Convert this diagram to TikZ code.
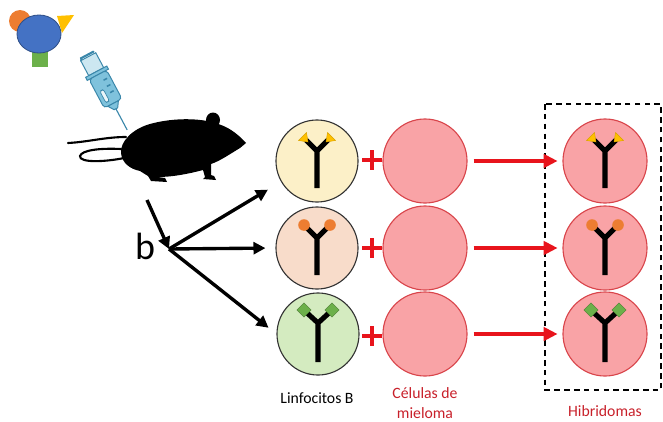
\documentclass[tikz,border=0pt]{standalone}
\usepackage{fontspec}
\setmainfont{Carlito}
\usetikzlibrary{arrows.meta}

\definecolor{lymphyellow}{HTML}{FCF0C8}
\definecolor{lymphorange}{HTML}{F8DCCA}
\definecolor{lymphgreen}{HTML}{D4EBC0}
\definecolor{myelomafill}{HTML}{F9A3A6}
\definecolor{myelomaedge}{HTML}{D9454B}
\definecolor{fusionred}{HTML}{E8141C}
\definecolor{textred}{HTML}{C8202A}
\definecolor{tipyellow}{HTML}{FFC000}
\definecolor{tiporange}{HTML}{ED7D31}
\definecolor{tipgreen}{HTML}{6CB04A}
\definecolor{antigenblue}{HTML}{4472C4}
\definecolor{syringeblue}{HTML}{7FC2DC}
\definecolor{syringeedge}{HTML}{3A87AA}

\begin{document}
\begin{tikzpicture}[
        x=0.025cm, y=-0.025cm,
        bcell/.style={circle, draw=black!80, line width=0.8pt, minimum size=2.05cm, inner sep=0pt},
        myeloma/.style={circle, draw=myelomaedge, fill=myelomafill, line width=0.8pt, minimum size=2.1cm, inner sep=0pt},
        black_arrow/.style={line width=2.4pt, -{Triangle[length=8.5pt,width=8.5pt]}},
        fusion_arrow/.style={draw=fusionred, line width=2.6pt, -{Triangle[length=10pt,width=9.5pt]}, shorten <=0.15cm, shorten >=0.12cm},
        plus_sign/.style={draw=fusionred, line width=3.4pt},
        ab_line/.style={line width=3.6pt},
        cell_text/.style={font=\fontsize{11.2}{14}\selectfont, align=center},
        mouse_tail/.style={line width=1.5pt, line cap=round},
        syringe_body/.style={fill=syringeblue, draw=syringeedge, line width=0.7pt},
        dashed_box/.style={dashed, line width=0.9pt, dash pattern=on 4pt off 3pt},
        % antibody Y with three kinds of binding tips
        ab_yellow/.pic={
            \draw[ab_line] (-11,-21) -- (0,-10) -- (11,-21) (0,-10) -- (0,27);
            \filldraw[fill=tipyellow, draw=tipyellow!85!black, line width=0.3pt] (-9,-19) -- (-18.5,-20.5) -- (-10.5,-28.5) -- cycle;
            \filldraw[fill=tipyellow, draw=tipyellow!85!black, line width=0.3pt] (9,-19) -- (18.5,-20.5) -- (10.5,-28.5) -- cycle;
        },
        ab_orange/.pic={
            \draw[ab_line] (-11,-21) -- (0,-10) -- (11,-21) (0,-10) -- (0,27);
            \fill[tiporange] (-13,-23) circle (5.8) (13,-23) circle (5.8);
        },
        ab_green/.pic={
            \draw[ab_line] (-12,-22) -- (0,-11) -- (12,-22) (0,-11) -- (0,28);
            \begin{scope}[shift={(-14,-24)}, rotate=45]
                \filldraw[fill=tipgreen, draw=tipgreen!70!black, line width=0.3pt] (-5,-5) rectangle (5,5);
            \end{scope}
            \begin{scope}[shift={(14,-24)}, rotate=45]
                \filldraw[fill=tipgreen, draw=tipgreen!70!black, line width=0.3pt] (-5,-5) rectangle (5,5);
            \end{scope}
        }
    ]
        \useasboundingbox (0,0) rectangle (663,421);

        % Antigen
        \fill[tiporange] (20,21) circle (11);
        \fill[tipyellow] (57,16) -- (74,15) -- (62,33) -- cycle;
        \fill[tipgreen] (32,50) rectangle (48,67);
        \filldraw[fill=antigenblue, draw=antigenblue!70!black, line width=0.6pt] (39,34) ellipse [x radius=22, y radius=19];

        % Syringe
        \begin{scope}[shift={(107,92)}, rotate=-62]
            \draw[draw=syringeedge, line width=1.5pt, line cap=round] (-42,-7) -- (-42,7) -- (-39,8);
            \filldraw[syringe_body, fill=syringeblue!40] (-40,-8.5) rectangle (-23,8.5);
            \filldraw[syringe_body] (-23,-12) rectangle (-19.5,12);
            \filldraw[syringe_body, rounded corners=2.5pt] (-19.5,-10) rectangle (13,10);
            \filldraw[fill=white!85!syringeblue, draw=syringeedge, line width=0.5pt, rounded corners=1.5pt] (-4,2) rectangle (9,6);
            \draw[syringeedge, line width=1.1pt] (-12,-6.5) -- (-12,-2.5) (-5,-6.5) -- (-5,-2.5) (2,-6.5) -- (2,-2.5);
            \filldraw[syringe_body] (13,-6) -- (19,-2) -- (19,2) -- (13,6) -- cycle;
            \draw[syringeedge, line width=0.8pt] (19,0) -- (43,0);
        \end{scope}

        % Mouse
        \draw[mouse_tail] (126,137) .. controls (105,137) and (88,142) .. (68,143);
        \draw[mouse_tail] (121,149) .. controls (100,148) and (82,150) .. (80,156) .. controls (79,163) and (105,162) .. (124,158);
        \fill (246,143) .. controls (240,136) and (230,128) .. (221,125)
            .. controls (205,118) and (175,117) .. (150,124)
            .. controls (132,129) and (120,142) .. (121,153)
            .. controls (122,163) and (130,169) .. (140,171)
            -- (148,176) -- (151,181) -- (167,182) -- (165,178) -- (158,177)
            .. controls (172,177) and (188,174) .. (203,170)
            -- (205,177) -- (203,179) -- (216,180) -- (214,176) -- (211,175) -- (211,164)
            .. controls (220,161) and (230,154) .. (240,148) -- cycle;
        \fill (213,120) ellipse [x radius=7, y radius=7.5];

        % B lymphocytes
        \node[bcell, fill=lymphyellow] (cell_b1) at (317,161) {};
        \node[bcell, fill=lymphorange] (cell_b2) at (317,248) {};
        \node[bcell, fill=lymphgreen] (cell_b3) at (318,334) {};
        \pic at (cell_b1) {ab_yellow};
        \pic at (cell_b2) {ab_orange};
        \pic at (cell_b3) {ab_green};

        % Myeloma cells
        \node[myeloma] (myeloma1) at (425,161) {};
        \node[myeloma] (myeloma2) at (425,248) {};
        \node[myeloma] (myeloma3) at (425,334) {};

        \draw[plus_sign] (372,150) -- (372,170) (362,160) -- (382,160);
        \draw[plus_sign] (372,238) -- (372,258) (362,248) -- (382,248);
        \draw[plus_sign] (372,326) -- (372,346) (362,336) -- (382,336);

        % Hybridomas
        \node[myeloma] (hybrid1) at (605,161) {};
        \node[myeloma] (hybrid2) at (605,248) {};
        \node[myeloma] (hybrid3) at (605,334) {};
        \pic at (hybrid1) {ab_yellow};
        \pic at (hybrid2) {ab_orange};
        \pic at (hybrid3) {ab_green};
        \draw[dashed_box] (545,104) rectangle (661,390);

        \draw[fusion_arrow] (myeloma1) -- (hybrid1);
        \draw[fusion_arrow] (myeloma2) -- (hybrid2);
        \draw[fusion_arrow] (myeloma3) -- (hybrid3);

        % Spleen cells from the mouse
        \coordinate (mouse_out) at (147,200);
        \coordinate (branch) at (169,249);
        \node[font=\fontsize{27}{30}\selectfont] (letter_b) at (145,246) {b};
        \draw[black_arrow] (mouse_out) -- (branch);
        \draw[black_arrow, shorten >=0.38cm] (branch) -- (cell_b1.210);
        \draw[black_arrow, shorten >=0.25cm] (branch) -- (cell_b2.west);
        \draw[black_arrow, shorten >=0.25cm] (branch) -- (cell_b3.west);

        % Labels
        \node[cell_text] (label_b) at (317,398) {Linfocitos B};
        \node[cell_text, text=textred] (label_myeloma) at (425,403) {Células de\\mieloma};
        \node[cell_text, text=textred] (label_hybrid) at (605,411) {Hibridomas};
    \end{tikzpicture}
\end{document}
